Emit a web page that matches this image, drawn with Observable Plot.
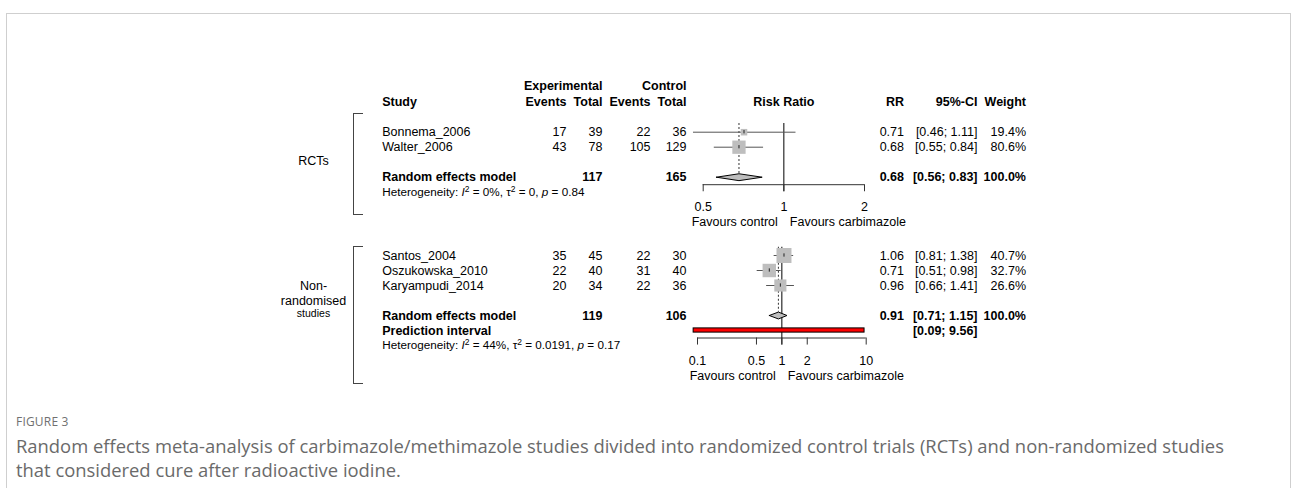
<!DOCTYPE html>
<html><head><meta charset="utf-8">
<script src="https://cdn.jsdelivr.net/npm/d3@7"></script>
<script src="https://cdn.jsdelivr.net/npm/@observablehq/plot@0.6"></script>
<style>
html,body{margin:0;padding:0;overflow:hidden;background:#fff;}
#root{position:relative;width:1292px;height:488px;overflow:hidden;background:#fff;}
#frame{position:absolute;left:6px;top:13px;width:1283px;height:540px;border:1px solid #cfcfcf;}
.plot{position:absolute;left:0;top:0;}
.bracket{position:absolute;border:1px solid #444;border-right:none;width:9px;}
#figlabel{position:absolute;left:16px;top:413px;font:12px "Open Sans",sans-serif;color:#707070;letter-spacing:0.2px;}
#caption{position:absolute;left:16px;top:434px;width:1270px;font:18.4px/24px "Open Sans",sans-serif;color:#6a6a6a;white-space:nowrap;}
</style></head><body>
<div id="root">
  <div id="frame"></div>
  <div class="bracket" style="left:353px;top:113px;height:100px;"></div>
  <div class="bracket" style="left:353px;top:246px;height:136px;"></div>
  <div id="figlabel">FIGURE 3</div>
  <div id="caption">Random effects meta-analysis of carbimazole/methimazole studies divided into randomized control trials (RCTs) and non-randomized studies<br>that considered cure after radioactive iodine.</div>
</div>
<script>
// ---------- DATA ----------
const rctStudies = ["Bonnema_2006", "Walter_2006"];
const rctExpEvents = [17, 43];
const rctExpTotal = [39, 78];
const rctCtrlEvents = [22, 105];
const rctCtrlTotal = [36, 129];
const rctRR = [0.71, 0.68];
const rctLower = [0.46, 0.55];
const rctUpper = [1.11, 0.84];
const rctWeight = [19.4, 80.6];
const rctPooled = [0.68, 0.56, 0.83];      // RR, lower, upper
const rctPooledTotals = [117, 165];
const rctHet = ["0%", "0", "0.84"];        // I2, tau2, p
const rctTicks = [0.5, 1, 2];

const nrStudies = ["Santos_2004", "Oszukowska_2010", "Karyampudi_2014"];
const nrExpEvents = [35, 22, 20];
const nrExpTotal = [45, 40, 34];
const nrCtrlEvents = [22, 31, 22];
const nrCtrlTotal = [30, 40, 36];
const nrRR = [1.06, 0.71, 0.96];
const nrLower = [0.81, 0.51, 0.66];
const nrUpper = [1.38, 0.98, 1.41];
const nrWeight = [40.7, 32.7, 26.6];
const nrPooled = [0.91, 0.71, 1.15];
const nrPooledTotals = [119, 106];
const nrPrediction = [0.09, 9.56];
const nrHet = ["44%", "0.0191", "0.17"];
const nrTicks = [0.1, 0.5, 1, 2, 10];

const headerTop = ["Experimental", "Control"];
const headerCols = ["Study", "Events", "Total", "Events", "Total", "Risk Ratio", "RR", "95%-CI", "Weight"];
const favourLabels = ["Favours control", "Favours carbimazole"];
const groupLabels = [["RCTs"], ["Non-", "randomised", "studies"]];

// ---------- LAYOUT (pixels) ----------
const COL = {study: 381.7, ee: 566, et: 602, ce: 650, ct: 686, rr: 903.5, ci: 977, w: 1025.5, group: 313};
const FONT = "Liberation Sans, Arial, Helvetica, sans-serif";
const FS = 12.5;
const fmt2 = v => v.toFixed(2);
const fmtCI = (l, u) => `[${fmt2(l)}; ${fmt2(u)}]`;
const fmtTick = v => String(v);

function makePanel(cfg) {
  const rows = cfg.names.map((name, i) => ({
    row: i, name, ee: cfg.ee[i], et: cfg.et[i], ce: cfg.ce[i], ct: cfg.ct[i],
    rr: cfg.rr[i], lo: cfg.lo[i], hi: cfg.hi[i], w: cfg.w[i]
  }));
  const reRow = cfg.reRow;
  const [pe, pl, ph] = cfg.pooled;
  const dh = 0.23;
  const diamond = [
    {x: pl, y: reRow}, {x: pe, y: reRow - dh}, {x: ph, y: reRow}, {x: pe, y: reRow + dh}, {x: pl, y: reRow}
  ];
  const txt = (data, opts) => Plot.text(data, {frameAnchor: "left", fontSize: FS, fill: "black", ...opts});
  const marks = [];

  if (cfg.header) {
    marks.push(
      txt([headerTop[0]], {y: () => -3.11, dx: COL.et, textAnchor: "end", fontWeight: "bold", text: d => d}),
      txt([headerTop[1]], {y: () => -3.11, dx: COL.ct, textAnchor: "end", fontWeight: "bold", text: d => d}),
      txt([headerCols[0]], {y: () => -2, dx: COL.study, textAnchor: "start", fontWeight: "bold", text: d => d}),
      txt([headerCols[1]], {y: () => -2, dx: COL.ee, textAnchor: "end", fontWeight: "bold", text: d => d}),
      txt([headerCols[2]], {y: () => -2, dx: COL.et, textAnchor: "end", fontWeight: "bold", text: d => d}),
      txt([headerCols[3]], {y: () => -2, dx: COL.ce, textAnchor: "end", fontWeight: "bold", text: d => d}),
      txt([headerCols[4]], {y: () => -2, dx: COL.ct, textAnchor: "end", fontWeight: "bold", text: d => d}),
      Plot.text([headerCols[5]], {x: () => 1, y: () => -2, fontSize: FS, fontWeight: "bold", text: d => d, fill: "black"}),
      txt([headerCols[6]], {y: () => -2, dx: COL.rr, textAnchor: "end", fontWeight: "bold", text: d => d}),
      txt([headerCols[7]], {y: () => -2, dx: COL.ci, textAnchor: "end", fontWeight: "bold", text: d => d}),
      txt([headerCols[8]], {y: () => -2, dx: COL.w, textAnchor: "end", fontWeight: "bold", text: d => d})
    );
  }

  // group label
  marks.push(txt(cfg.group, {y: (d, i) => cfg.groupRows[i], dx: COL.group, textAnchor: "middle",
    text: d => d, fontSize: (d, i) => cfg.groupSizes[i]}));

  // reference line at 1 and dotted pooled line
  marks.push(
    Plot.ruleX([1], {x: d => d, y1: () => cfg.refTop, y2: () => cfg.axisRow + 0.47, stroke: "black", strokeWidth: 1}),
    Plot.ruleX([pe], {x: d => d, y1: () => cfg.refTop, y2: () => reRow - dh, stroke: "#333", strokeDasharray: "2,2", strokeWidth: 1})
  );

  // study CIs, squares, centre ticks
  marks.push(
    Plot.ruleY(rows, {x1: "lo", x2: "hi", y: "row", stroke: "#555", strokeWidth: 1}),
    Plot.dot(rows, {x: "rr", y: "row", r: "w", symbol: "square", fill: "#bebebe", stroke: "none"}),
    Plot.ruleX(rows, {x: "rr", y1: d => d.row - 0.11, y2: d => d.row + 0.11, stroke: "#222", strokeWidth: 1})
  );

  // diamond
  marks.push(Plot.line(diamond, {x: "x", y: "y", fill: "#bebebe", stroke: "black", strokeWidth: 1}));

  // prediction interval
  if (cfg.pi) {
    marks.push(Plot.rect([cfg.pi], {x1: d => d[0], x2: d => d[1], y1: () => cfg.piRow - 0.14, y2: () => cfg.piRow + 0.14,
      fill: "red", stroke: "black", strokeWidth: 1}));
  }

  // axis
  marks.push(
    Plot.ruleY([cfg.axisRow], {y: d => d, x1: () => cfg.ticks[0], x2: () => cfg.ticks[cfg.ticks.length - 1], stroke: "#333"}),
    Plot.ruleX(cfg.ticks, {x: d => d, y1: () => cfg.axisRow, y2: () => cfg.axisRow + 0.47, stroke: "#333"}),
    Plot.text(cfg.ticks, {x: d => d, y: () => cfg.labelRow, text: fmtTick, fontSize: FS, fill: "black"}),
    Plot.text([favourLabels[0]], {x: () => 1, y: () => cfg.favRow, text: d => d, textAnchor: "end", dx: -6, fontSize: FS, fill: "black"}),
    Plot.text([favourLabels[1]], {x: () => 1, y: () => cfg.favRow, text: d => d, textAnchor: "start", dx: 6, fontSize: FS, fill: "black"})
  );

  // text columns: studies
  marks.push(
    txt(rows, {y: "row", dx: COL.study, textAnchor: "start", text: "name"}),
    txt(rows, {y: "row", dx: COL.ee, textAnchor: "end", text: d => String(d.ee)}),
    txt(rows, {y: "row", dx: COL.et, textAnchor: "end", text: d => String(d.et)}),
    txt(rows, {y: "row", dx: COL.ce, textAnchor: "end", text: d => String(d.ce)}),
    txt(rows, {y: "row", dx: COL.ct, textAnchor: "end", text: d => String(d.ct)}),
    txt(rows, {y: "row", dx: COL.rr, textAnchor: "end", text: d => fmt2(d.rr)}),
    txt(rows, {y: "row", dx: COL.ci, textAnchor: "end", text: d => fmtCI(d.lo, d.hi)}),
    txt(rows, {y: "row", dx: COL.w, textAnchor: "end", text: d => d.w.toFixed(1) + "%"})
  );

  // pooled row
  const B = {fontWeight: "bold"};
  marks.push(
    txt(["Random effects model"], {y: () => reRow, dx: COL.study, textAnchor: "start", text: d => d, ...B}),
    txt([cfg.totals[0]], {y: () => reRow, dx: COL.et, textAnchor: "end", text: d => String(d), ...B}),
    txt([cfg.totals[1]], {y: () => reRow, dx: COL.ct, textAnchor: "end", text: d => String(d), ...B}),
    txt([pe], {y: () => reRow, dx: COL.rr, textAnchor: "end", text: fmt2, ...B}),
    txt([cfg.pooled], {y: () => reRow, dx: COL.ci, textAnchor: "end", text: d => fmtCI(d[1], d[2]), ...B}),
    txt([100], {y: () => reRow, dx: COL.w, textAnchor: "end", text: d => d.toFixed(1) + "%", ...B})
  );
  if (cfg.pi) {
    marks.push(
      txt(["Prediction interval"], {y: () => cfg.piRow, dx: COL.study, textAnchor: "start", text: d => d, ...B}),
      txt([cfg.pi], {y: () => cfg.piRow, dx: COL.ci, textAnchor: "end", text: d => fmtCI(d[0], d[1]), ...B})
    );
  }
  // heterogeneity
  marks.push(txt([cfg.het], {y: () => cfg.hetRow, dx: COL.study, textAnchor: "start", fontSize: 11.7,
    text: d => `Heterogeneity: I2 = ${d[0]}, τ2 = ${d[1]}, p = ${d[2]}`}));

  const svg = Plot.plot({
    width: 1292, height: 400,
    marginLeft: 0, marginRight: 0, marginTop: 0, marginBottom: 0,
    x: {type: "log", domain: [cfg.ticks[0], cfg.ticks[cfg.ticks.length - 1]], range: cfg.xRange, axis: null},
    y: {type: "linear", domain: [0, 1], range: [cfg.y0, cfg.y0 + 15], axis: null},
    r: {type: "sqrt", domain: [0, 100], range: [0, cfg.rMax]},
    style: {background: "transparent", fontFamily: FONT, fontSize: FS + "px", overflow: "visible"},
    marks
  });
  svg.classList.add("plot");
  // typographic refinement of heterogeneity line (italic I/p, superscripts)
  svg.querySelectorAll("text").forEach(t => {
    const s = t.textContent;
    if (s.startsWith("Heterogeneity:")) {
      const m = s.match(/I2 = (.*), τ2 = (.*), p = (.*)$/);
      t.innerHTML = `Heterogeneity: <tspan font-style="italic">I</tspan><tspan dy="-4" font-size="8.5">2</tspan><tspan dy="4"> = ${m[1]}, τ</tspan><tspan dy="-4" font-size="8.5">2</tspan><tspan dy="4"> = ${m[2]}, </tspan><tspan font-style="italic">p</tspan><tspan> = ${m[3]}</tspan>`;
    }
  });
  return svg;
}

const root = document.getElementById("root");
root.appendChild(makePanel({
  names: rctStudies, ee: rctExpEvents, et: rctExpTotal, ce: rctCtrlEvents, ct: rctCtrlTotal,
  rr: rctRR, lo: rctLower, hi: rctUpper, w: rctWeight, pooled: rctPooled, totals: rctPooledTotals,
  het: rctHet, ticks: rctTicks, xRange: [702.7, 864], y0: 131.7, rMax: 8.35,
  reRow: 3, hetRow: 4, axisRow: 3.5, labelRow: 5, favRow: 6, refTop: -0.58,
  header: true, group: groupLabels[0], groupRows: [1.89], groupSizes: [12.5]
}));
root.appendChild(makePanel({
  names: nrStudies, ee: nrExpEvents, et: nrExpTotal, ce: nrCtrlEvents, ct: nrCtrlTotal,
  rr: nrRR, lo: nrLower, hi: nrUpper, w: nrWeight, pooled: nrPooled, totals: nrPooledTotals,
  het: nrHet, pi: nrPrediction, ticks: nrTicks, xRange: [697, 865.7], y0: 255, rMax: 13.26,
  reRow: 4, piRow: 5, hetRow: 6, axisRow: 5.5, labelRow: 7, favRow: 8, refTop: -0.55,
  header: false, group: groupLabels[1], groupRows: [2.0, 3.0, 3.87], groupSizes: [12.5, 12.5, 10.5]
}));
</script>
</body></html>
